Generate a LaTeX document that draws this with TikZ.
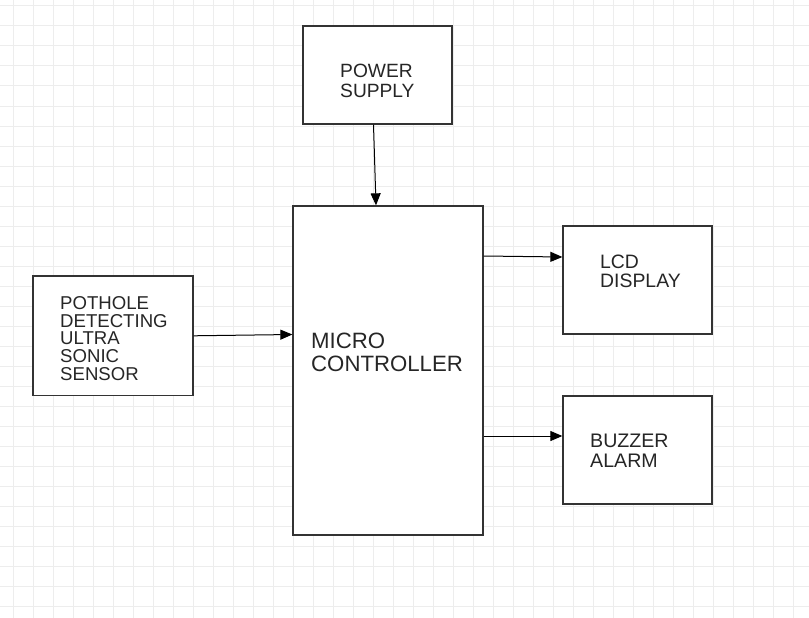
\documentclass[tikz,border=0pt]{standalone}
\usepackage{fontspec}
\setmainfont{Liberation Sans}
\usetikzlibrary{calc, arrows.meta, positioning}
\definecolor{gridgray}{HTML}{EDEDED}
\definecolor{boxgray}{HTML}{333333}
\tikzset{
    blockbox/.style={draw=boxgray, line width=1.3pt, fill=white, inner sep=0pt},
    blocktext/.style={anchor=base west, inner sep=0pt, align=left, text=black!85},
    flowarrow/.style={draw=black, line width=1pt, -{Triangle[length=12pt,width=10pt]}}
}
\begin{document}
\begin{tikzpicture}[x=1pt, y=-1pt]
    \useasboundingbox (0,0) rectangle (809,618);
    % grid
    \foreach \gx in {13,33,...,793}
        \draw[gridgray, line width=1pt] (\gx,0) -- (\gx,618);
    \foreach \gy in {6,26,...,606}
        \draw[gridgray, line width=1pt] (0,\gy) -- (809,\gy);
    % blocks
    \foreach \n/\cx/\cy/\w/\h in
    {ps/377.5/75/149/98,
        mcu/388/370.5/190/329,
        sensor/113/335.8/160/119.5,
        lcd/637.5/280/149/108,
        buzz/637.5/450/149/108
    }
    {
        \node[blockbox, minimum width=\w pt, minimum height=\h pt] (\n) at (\cx,\cy) {};
    };
    % labels (anchored on the last line)
    \node[blocktext, font=\fontsize{19.2}{20}\selectfont] (psText) at (340,97.7) {POWER\\SUPPLY};
    \node[blocktext, font=\fontsize{18.6}{17.8}\selectfont] (sensorText) at (60,380.5) {POTHOLE\\DETECTING\\ULTRA\\SONIC\\SENSOR};
    \node[blocktext, font=\fontsize{22.2}{23}\selectfont] (mcuText) at (311,371.7) {MICRO\\CONTROLLER};
    \node[blocktext, font=\fontsize{19.4}{19}\selectfont] (lcdText) at (600,287.7) {LCD\\DISPLAY};
    \node[blocktext, font=\fontsize{19.6}{19.4}\selectfont] (buzzText) at (590,467) {BUZZER\\ALARM};
    % connectors
    \draw[flowarrow] ([xshift=-4pt]ps.south) -- ([xshift=-12pt]mcu.north);
    \draw[flowarrow] (sensor.east) -- ([yshift=36pt]mcu.west);
    \draw[flowarrow] ([yshift=114.5pt]mcu.east) -- ([yshift=23pt]lcd.west);
    \draw[flowarrow] ([yshift=-65.5pt]mcu.east) -- ([yshift=14pt]buzz.west);
\end{tikzpicture}
\end{document}
